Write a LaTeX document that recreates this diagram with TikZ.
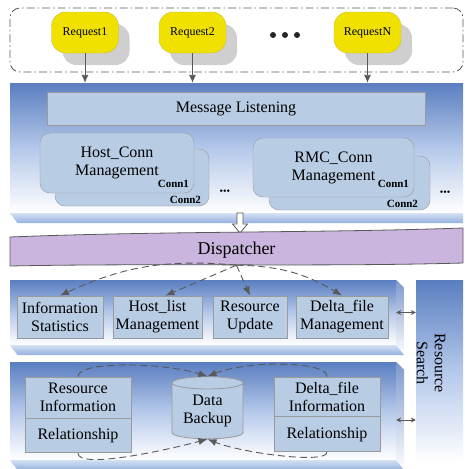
\documentclass[tikz,border=0pt]{standalone}
\usepackage{fontspec}
\setmainfont{Liberation Serif}
\usetikzlibrary{positioning,shadows,shapes.geometric,arrows.meta}

\definecolor{reqyellow}{HTML}{F0E100}
\definecolor{reqedge}{HTML}{C8BC46}
\definecolor{shadowgray}{HTML}{CFCFCF}
\definecolor{panelblue}{HTML}{5A7EC0}
\definecolor{panelmid}{HTML}{B4C8EA}
\definecolor{boxblue}{HTML}{B8CCE4}
\definecolor{boxedge}{HTML}{9A9A9A}
\definecolor{disppurple}{HTML}{C9B5DD}
\definecolor{linegray}{HTML}{595959}
\definecolor{bevlight}{HTML}{D3E0F3}
\definecolor{bevdark}{HTML}{93B0DE}

\tikzset{
  dashframe/.style={rectangle, rounded corners=10pt, draw=linegray, line width=0.8pt,
    dash pattern=on 8pt off 3pt on 1.5pt off 3pt, minimum width=453pt, minimum height=64pt},
  request/.style={rectangle, rounded corners=14pt, draw=reqedge, fill=reqyellow, inner sep=0pt,
    minimum width=67pt, minimum height=41pt, font=\fontsize{12}{14}\selectfont,
    drop shadow={shadow xshift=11pt, shadow yshift=-12pt, fill=shadowgray, opacity=1}},
  panel/.style={rectangle, inner sep=0pt, top color=panelblue, bottom color=white, middle color=panelmid},
  bevelbot/.style={top color=bevlight, bottom color=bevdark},
  bevelside/.style={top color=panelblue!80, bottom color=white},
  bigbox/.style={rectangle, draw=boxedge, fill=boxblue, inner sep=0pt, line width=0.8pt,
    font=\fontsize{16}{18}\selectfont},
  connbox/.style={rectangle, rounded corners=10pt, draw=boxedge, fill=boxblue, inner sep=0pt,
    align=center, font=\fontsize{16}{18}\selectfont},
  mbox/.style={rectangle, draw=boxedge, fill=boxblue, inner sep=0pt, line width=0.8pt, align=center,
    minimum height=42pt, font=\fontsize{16}{18}\selectfont},
  sbox/.style={rectangle, draw=boxedge, fill=boxblue, inner sep=0pt, line width=0.8pt, align=center,
    minimum width=106pt, font=\fontsize{16}{18}\selectfont},
  connlbl/.style={inner sep=0pt, font=\fontsize{11}{11}\selectfont\bfseries},
  smalldots/.style={inner sep=0pt, font=\fontsize{10}{10}\selectfont},
  reqline/.style={draw=linegray, line width=0.9pt, -{Latex[length=8pt,width=7pt]}},
  dashline/.style={draw=linegray, line width=0.9pt, dash pattern=on 7pt off 4pt,
    -{Latex[length=9pt,width=7pt]}},
  bothline/.style={draw=linegray, line width=0.9pt, {Stealth[length=5pt,width=5pt]}-{Stealth[length=5pt,width=5pt]}},
  hollow/.style={draw=linegray, fill=white, line width=0.8pt},
  dispshape/.style={draw=linegray, fill=disppurple, line width=0.8pt},
}

\begin{document}
\begin{tikzpicture}[x=1pt,y=-1pt]
\useasboundingbox (0,0) rectangle (465,469);

% requests
\node[dashframe] (reqs) at (236.5,40) {};
\node[request] (req1) at (85,32.5) {Request1};
\node[request] (req2) at (192.5,32.5) {Request2};
\node[request] (reqn) at (367.5,32.5) {RequestN};
\foreach \x in {273,285,297} \fill[black!85] (\x,35) circle (3);

% connection layer
\node[panel, minimum width=453pt, minimum height=130pt] (conn) at (236.5,148) {};
\shade[bevelbot] (conn.south west) -- (conn.south east) -- ++(0,10) -- ([shift={(8,10)}]conn.south west) -- cycle;
\node[bigbox, minimum width=378pt, minimum height=33pt] (listen) at (236,108.5) {Message Listening};

\node[connbox, minimum width=154pt, minimum height=57pt] (hostcb) at (132,177.5) {};
\node[connbox, minimum width=154pt, minimum height=60pt] (hostc) at (117,163) {Host\_Conn\\Management};
\node[connlbl, anchor=south east] (hc1) at ([shift={(-5,-5)}]hostc.south east) {Conn1};
\node[connlbl, anchor=south east] (hc2) at ([shift={(-8,-2)}]hostcb.south east) {Conn2};
\node[smalldots] (dots1) at (225,192) {\textbullet\textbullet\textbullet};

\node[connbox, minimum width=161pt, minimum height=54pt] (rmccb) at (349.5,183) {};
\node[connbox, minimum width=161pt, minimum height=59pt] (rmcc) at (333.5,167.5) {RMC\_Conn\\Management};
\node[connlbl, anchor=south east] (rc1) at ([shift={(-5,-9)}]rmcc.south east) {Conn1};
\node[connlbl, anchor=south east] (rc2) at ([shift={(-12,-2)}]rmccb.south east) {Conn2};
\node[smalldots] (dots2) at (445,193) {\textbullet\textbullet\textbullet};

\draw[reqline] (req1.south) -- (req1.south |- conn.north);
\draw[reqline] (req2.south) -- (req2.south |- conn.north);
\draw[reqline] (reqn.south) -- (reqn.south |- conn.north);

% hollow arrow down to the dispatcher
\draw[hollow] (237,213) -- (243,213) -- (243,224) -- (247.5,224) -- (240,233) -- (232.5,224) -- (237,224) -- cycle;

% dispatcher
\filldraw[dispshape] (10,237) .. controls (160,231) and (320,233) .. (463,228) -- (463,263)
  .. controls (320,267) and (160,263) .. (10,266) -- cycle;
\node[minimum width=453pt, minimum height=30pt, inner sep=0pt, font=\fontsize{18}{20}\selectfont] (disp) at (236.5,250) {Dispatcher};

% management layer
\node[panel, minimum width=386pt, minimum height=65pt] (mgmt) at (203,312.5) {};
\shade[bevelside] (mgmt.north east) -- ++(8,8) -- ([shift={(8,10)}]mgmt.south east) -- (mgmt.south east) -- cycle;
\shade[bevelbot] (mgmt.south west) -- (mgmt.south east) -- ++(8,10) -- ([shift={(8,10)}]mgmt.south west) -- cycle;
\node[mbox, minimum width=86pt] (info) at (60,317) {Information\\Statistics};
\node[mbox, minimum width=89pt] (hostl) at (157.5,317) {Host\_list\\Management};
\node[mbox, minimum width=74pt] (resupd) at (250,317) {Resource\\Update};
\node[mbox, minimum width=92pt] (deltam) at (342,317) {Delta\_file\\Management};

\draw[dashline] (disp.south) to[bend right=15] (info.north);
\draw[dashline] (disp.south) -- ([xshift=8pt]hostl.north);
\draw[dashline] (disp.south) -- (resupd.north);
\draw[dashline] (disp.south) to[bend left=15] (deltam.north);

% storage layer
\node[panel, minimum width=386pt, minimum height=98pt] (store) at (203,411) {};
\shade[bevelside] (store.north east) -- ++(8,8) -- ([shift={(8,10)}]store.south east) -- (store.south east) -- cycle;
\shade[bevelbot] (store.south west) -- (store.south east) -- ++(8,10) -- ([shift={(8,10)}]store.south west) -- cycle;
\node[sbox, minimum height=41pt] (resinfo) at (78,397.5) {Resource\\Information};
\node[sbox, minimum height=34pt, below=0pt of resinfo] (resrel) {Relationship};
\node[sbox, minimum height=39pt] (deltainfo) at (327,396.5) {Delta\_file\\Information};
\node[sbox, minimum height=35pt, below=0pt of deltainfo] (deltarel) {Relationship};
\node[cylinder, shape border rotate=90, aspect=0.25, draw=boxedge, fill=boxblue, line width=0.8pt,
  minimum width=71pt, minimum height=62pt, inner sep=0pt, align=center,
  font=\fontsize{16}{18}\selectfont] (backup) at (207.5,411) {Data\\Backup};

\draw[dashline] (resinfo.north) .. controls +(0,-16) and +(-45,-14) .. (backup.north);
\draw[dashline] (deltainfo.north) .. controls +(0,-16) and +(40,-16) .. (backup.north);
\draw[dashline] (resrel.south) .. controls +(0,16) and +(-45,12) .. (backup.south);
\draw[dashline] (deltarel.south) .. controls +(0,12) and +(35,14) .. (backup.south);

% search
\node[panel, minimum width=47pt, minimum height=182pt] (search) at (439.5,371) {};
\node[rotate=-90, align=center, inner sep=0pt, font=\fontsize{16}{18}\selectfont] (searchlbl) at (431,363) {Resource\\Search};
\coordinate (storeport) at ([yshift=-9pt]store.east);
\draw[bothline] (mgmt.east) -- (mgmt.east -| search.west);
\draw[bothline] (storeport) -- (storeport -| search.west);
\end{tikzpicture}
\end{document}
